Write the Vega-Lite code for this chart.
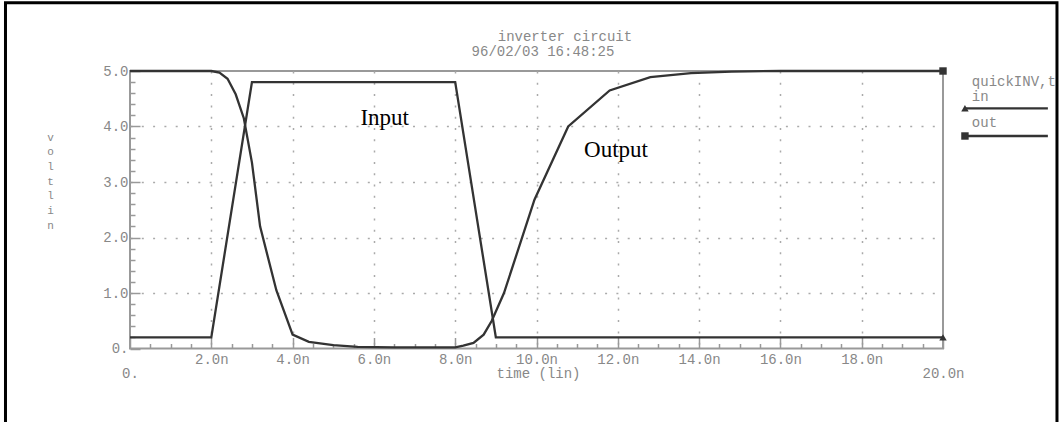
{
  "$schema": "https://vega.github.io/schema/vega-lite/v6.json",
  "width": 813,
  "height": 277.5,
  "autosize": {"type": "none"},
  "padding": {"left": 130, "top": 71, "right": 118, "bottom": 73.5},
  "background": "white",
  "config": {
    "view": {"stroke": "#999", "strokeWidth": 2},
    "axis": {
      "labelFont": "Liberation Mono",
      "labelFontSize": 14,
      "labelColor": "#888",
      "titleFont": "Liberation Mono",
      "titleFontSize": 14,
      "titleFontWeight": "normal",
      "titleColor": "#888",
      "domain": false,
      "gridColor": "#aaa",
      "gridWidth": 1.5,
      "gridDash": [2, 9.3]
    },
    "text": {"font": "Liberation Mono", "fontSize": 14, "color": "#888"}
  },
  "datasets": {
    "waves": [
      {"series": "in", "t": 0, "v": 0.2},
      {"series": "in", "t": 2, "v": 0.2},
      {"series": "in", "t": 3, "v": 4.8},
      {"series": "in", "t": 8, "v": 4.8},
      {"series": "in", "t": 9, "v": 0.2},
      {"series": "in", "t": 20, "v": 0.2},
      {"series": "out", "t": 0, "v": 5.0},
      {"series": "out", "t": 2.0, "v": 5.0},
      {"series": "out", "t": 2.2, "v": 4.97},
      {"series": "out", "t": 2.4, "v": 4.86},
      {"series": "out", "t": 2.6, "v": 4.58},
      {"series": "out", "t": 2.8, "v": 4.15},
      {"series": "out", "t": 3.0, "v": 3.35},
      {"series": "out", "t": 3.2, "v": 2.2},
      {"series": "out", "t": 3.6, "v": 1.05},
      {"series": "out", "t": 4.0, "v": 0.25},
      {"series": "out", "t": 4.4, "v": 0.12},
      {"series": "out", "t": 5.0, "v": 0.06},
      {"series": "out", "t": 5.6, "v": 0.03},
      {"series": "out", "t": 6.5, "v": 0.02},
      {"series": "out", "t": 8.0, "v": 0.02},
      {"series": "out", "t": 8.2, "v": 0.05},
      {"series": "out", "t": 8.45, "v": 0.1},
      {"series": "out", "t": 8.7, "v": 0.25},
      {"series": "out", "t": 8.9, "v": 0.5},
      {"series": "out", "t": 9.2, "v": 1.0},
      {"series": "out", "t": 9.95, "v": 2.68},
      {"series": "out", "t": 10.78, "v": 4.0},
      {"series": "out", "t": 11.8, "v": 4.65},
      {"series": "out", "t": 12.8, "v": 4.89},
      {"series": "out", "t": 13.8, "v": 4.96},
      {"series": "out", "t": 14.8, "v": 4.99},
      {"series": "out", "t": 16, "v": 5.0},
      {"series": "out", "t": 20, "v": 5.0}
    ],
    "notes": [
      {"id": "title", "text": "inverter circuit"},
      {"id": "stamp", "text": "96/02/03 16:48:25"},
      {"id": "input", "text": "Input"},
      {"id": "output", "text": "Output"},
      {"id": "file", "text": "quickINV,t"},
      {"id": "in", "text": "in"},
      {"id": "out", "text": "out"},
      {"id": "frame", "text": ""}
    ]
  },
  "resolve": {"axis": {"x": "independent", "y": "independent"}},
  "layer": [
    {
      "data": {"name": "notes"},
      "transform": [{"filter": "datum.id == 'frame'"}],
      "mark": {"type": "rect", "fill": "transparent", "stroke": "black", "strokeWidth": 3, "clip": false},
      "encoding": {
        "x": {"datum": -3.063, "type": "quantitative", "scale": {"domain": [0, 20], "nice": false, "zero": false}, "axis": null},
        "x2": {"datum": 22.804},
        "y": {"datum": 6.229, "type": "quantitative", "scale": {"domain": [0, 5], "nice": false, "zero": false}, "axis": null},
        "y2": {"datum": -1.47}
      }
    },
    {
      "data": {"name": "waves"},
      "mark": {"type": "line", "color": "#333", "strokeWidth": 2.3},
      "encoding": {
        "x": {
          "field": "t", "type": "quantitative",
          "axis": {
            "orient": "bottom",
            "values": [0, 0.5, 1, 1.5, 2, 2.5, 3, 3.5, 4, 4.5, 5, 5.5, 6, 6.5, 7, 7.5, 8, 8.5, 9, 9.5, 10, 10.5, 11, 11.5, 12, 12.5, 13, 13.5, 14, 14.5, 15, 15.5, 16, 16.5, 17, 17.5, 18, 18.5, 19, 19.5, 20],
            "labelExpr": "datum.value % 2 != 0 ? '' : (datum.value == 0 ? '0.' : format(datum.value, '.1f') + 'n')",
            "ticks": true,
            "tickColor": "#999",
            "tickWidth": 1.5,
            "tickSize": -11,
            "tickDash": {"condition": {"test": "datum.value % 2 != 0", "value": [5, 20]}, "value": [11, 1]},
            "grid": true,
            "gridOpacity": {"condition": {"test": "datum.value % 2 == 0 && datum.value > 0 && datum.value < 20", "value": 1}, "value": 0},
            "labelPadding": {"condition": {"test": "datum.value == 0 || datum.value == 20", "value": 29}, "value": 15},
            "labelBaseline": "top",
            "labelFlush": false,
            "labelOverlap": false,
            "title": "time (lin)",
            "titleX": 408,
            "titleY": 25,
            "titleBaseline": "middle",
            "titleAlign": "center"
          }
        },
        "y": {
          "field": "v", "type": "quantitative",
          "axis": {
            "orient": "left",
            "values": [0, 0.2, 0.4, 0.6, 0.8, 1, 1.2, 1.4, 1.6, 1.8, 2, 2.2, 2.4, 2.6, 2.8, 3, 3.2, 3.4, 3.6, 3.8, 4, 4.2, 4.4, 4.6, 4.8, 5],
            "labelExpr": "abs(datum.value - round(datum.value)) > 0.001 ? '' : (datum.value == 0 ? '0.' : format(datum.value, '.1f'))",
            "ticks": true,
            "tickColor": "#999",
            "tickWidth": 1.5,
            "tickSize": -10,
            "tickDash": {"condition": {"test": "abs(datum.value - round(datum.value)) > 0.001", "value": [5, 20]}, "value": [10, 1]},
            "grid": true,
            "gridOpacity": {"condition": {"test": "abs(datum.value - round(datum.value)) < 0.001 && datum.value > 0.5 && datum.value < 4.5", "value": 1}, "value": 0},
            "labelPadding": 12,
            "labelBaseline": "middle",
            "labelFlush": false,
            "labelOverlap": false,
            "title": ["v", "o", "l", "t", " ", "l", "i", "n"],
            "titleAngle": 0,
            "titleX": -80,
            "titleY": 60,
            "titleAlign": "center",
            "titleBaseline": "top",
            "titleFontSize": 11,
            "titleLineHeight": 14.7
          }
        },
        "detail": {"field": "series"}
      }
    },
    {
      "data": {"name": "waves"},
      "transform": [{"filter": "datum.t == 20"}],
      "mark": {"type": "point", "filled": true, "size": 55, "color": "#333", "opacity": 1},
      "encoding": {
        "x": {"field": "t", "type": "quantitative", "axis": null},
        "y": {"field": "v", "type": "quantitative", "axis": null},
        "shape": {"field": "series", "type": "nominal", "scale": {"domain": ["in", "out"], "range": ["triangle-up", "square"]}, "legend": null}
      }
    },
    {
      "data": {"name": "notes"},
      "transform": [{"filter": "datum.id == 'input'"}],
      "mark": {"type": "text", "font": "Liberation Serif", "fontSize": 23, "color": "black", "align": "center", "baseline": "alphabetic"},
      "encoding": {
        "x": {"datum": 6.266, "type": "quantitative", "axis": null},
        "y": {"datum": 4.027, "type": "quantitative", "axis": null},
        "text": {"field": "text"}
      }
    },
    {
      "data": {"name": "notes"},
      "transform": [{"filter": "datum.id == 'output'"}],
      "mark": {"type": "text", "font": "Liberation Serif", "fontSize": 23, "color": "black", "align": "center", "baseline": "alphabetic"},
      "encoding": {
        "x": {"datum": 11.956, "type": "quantitative", "axis": null},
        "y": {"datum": 3.456, "type": "quantitative", "axis": null},
        "text": {"field": "text"}
      }
    },
    {
      "data": {"name": "notes"},
      "transform": [{"filter": "datum.id == 'title'"}],
      "mark": {"type": "text", "align": "center", "baseline": "middle"},
      "encoding": {
        "x": {"datum": 10.70, "type": "quantitative", "axis": null},
        "y": {"datum": 5.618, "type": "quantitative", "axis": null},
        "text": {"field": "text"}
      }
    },
    {
      "data": {"name": "notes"},
      "transform": [{"filter": "datum.id == 'stamp'"}],
      "mark": {"type": "text", "align": "center", "baseline": "middle"},
      "encoding": {
        "x": {"datum": 10.16, "type": "quantitative", "axis": null},
        "y": {"datum": 5.348, "type": "quantitative", "axis": null},
        "text": {"field": "text"}
      }
    },
    {
      "data": {"name": "notes"},
      "transform": [{"filter": "datum.id == 'file'"}],
      "mark": {"type": "text", "align": "left", "baseline": "middle"},
      "encoding": {
        "x": {"datum": 20.71, "type": "quantitative", "axis": null},
        "y": {"datum": 4.807, "type": "quantitative", "axis": null},
        "text": {"field": "text"}
      }
    },
    {
      "data": {"name": "notes"},
      "transform": [{"filter": "datum.id == 'in'"}],
      "mark": {"type": "text", "align": "left", "baseline": "middle"},
      "encoding": {
        "x": {"datum": 20.71, "type": "quantitative", "axis": null},
        "y": {"datum": 4.537, "type": "quantitative", "axis": null},
        "text": {"field": "text"}
      }
    },
    {
      "data": {"name": "notes"},
      "transform": [{"filter": "datum.id == 'out'"}],
      "mark": {"type": "text", "align": "left", "baseline": "middle"},
      "encoding": {
        "x": {"datum": 20.71, "type": "quantitative", "axis": null},
        "y": {"datum": 4.063, "type": "quantitative", "axis": null},
        "text": {"field": "text"}
      }
    },
    {
      "data": {"name": "notes"},
      "transform": [{"filter": "datum.id == 'in'"}],
      "mark": {"type": "rule", "color": "#333", "strokeWidth": 2.3},
      "encoding": {
        "x": {"datum": 20.54, "type": "quantitative", "axis": null},
        "x2": {"datum": 22.58},
        "y": {"datum": 4.328, "type": "quantitative", "axis": null}
      }
    },
    {
      "data": {"name": "notes"},
      "transform": [{"filter": "datum.id == 'out'"}],
      "mark": {"type": "rule", "color": "#333", "strokeWidth": 2.3},
      "encoding": {
        "x": {"datum": 20.54, "type": "quantitative", "axis": null},
        "x2": {"datum": 22.58},
        "y": {"datum": 3.829, "type": "quantitative", "axis": null}
      }
    },
    {
      "data": {"name": "notes"},
      "transform": [{"filter": "datum.id == 'in'"}],
      "mark": {"type": "point", "filled": true, "size": 55, "color": "#333", "opacity": 1, "shape": "triangle-up"},
      "encoding": {
        "x": {"datum": 20.54, "type": "quantitative", "axis": null},
        "y": {"datum": 4.328, "type": "quantitative", "axis": null}
      }
    },
    {
      "data": {"name": "notes"},
      "transform": [{"filter": "datum.id == 'out'"}],
      "mark": {"type": "point", "filled": true, "size": 55, "color": "#333", "opacity": 1, "shape": "square"},
      "encoding": {
        "x": {"datum": 20.54, "type": "quantitative", "axis": null},
        "y": {"datum": 3.829, "type": "quantitative", "axis": null}
      }
    }
  ]
}
